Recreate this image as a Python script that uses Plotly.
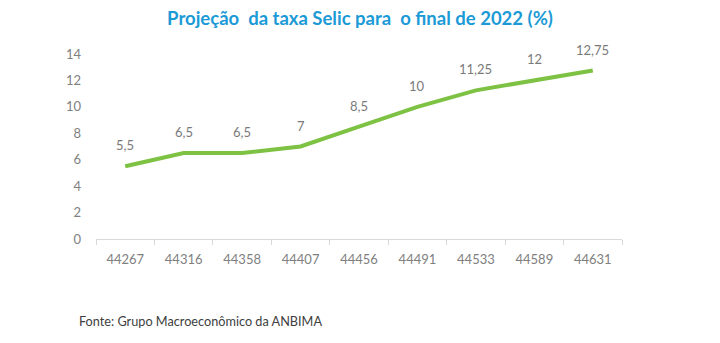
import plotly.graph_objects as go

# Selic projections for end of 2022 (%), by survey date (Excel serial)
datas = ["44267", "44316", "44358", "44407", "44456", "44491", "44533", "44589", "44631"]
selic = [5.5, 6.5, 6.5, 7, 8.5, 10, 11.25, 12, 12.75]
y_ticks = [0, 2, 4, 6, 8, 10, 12, 14]

def fmt(v):
    return f"{v:g}".replace(".", ",")

pos = list(range(len(datas)))
bounds = [p - 0.5 for p in pos] + [pos[-1] + 0.5]

grey = "#808080"
fig = go.Figure()
fig.add_trace(go.Scatter(
    x=pos, y=selic, mode="lines",
    line=dict(color="#7dc243", width=4),
    hoverinfo="skip",
))

for p, v in zip(pos, selic):
    fig.add_annotation(
        x=p, y=v, text=fmt(v), showarrow=False,
        yshift=21, font=dict(size=13, color="#7a7a7a", family="Lato"),
    )

fig.add_annotation(
    xref="paper", yref="paper", x=-0.036, y=-0.443,
    xanchor="left", yanchor="middle", showarrow=False,
    text="Fonte: Grupo Macroeconômico da ANBIMA",
    font=dict(size=12.7, color="#404040", family="Lato"),
)

fig.update_layout(
    width=720, height=343,
    margin=dict(l=96, r=98, t=54, b=104),
    paper_bgcolor="white", plot_bgcolor="white",
    showlegend=False,
    title=dict(
        text="<b>Projeção  da taxa Selic para  o final de 2022 (%)</b>",
        x=0.5, xanchor="center", y=1 - 19 / 343, yanchor="middle",
        yref="container",
        font=dict(size=18.5, color="#1b9ad6", family="Lato"),
    ),
    font=dict(family="Lato", color=grey),
)
fig.update_xaxes(
    range=[bounds[0], bounds[-1]], tickvals=pos, ticktext=datas,
    showline=True, linecolor="#d9d9d9", linewidth=1,
    ticks="", ticklabelstandoff=8,
    minor=dict(tickvals=bounds, ticks="outside", ticklen=5, tickcolor="#d9d9d9", showgrid=False),
    showgrid=False, zeroline=False, tickfont=dict(size=13, color=grey),
)
fig.update_yaxes(
    range=[0, 14], tickvals=y_ticks, showgrid=False, zeroline=False,
    showline=False, ticks="", ticklabelstandoff=14,
    tickfont=dict(size=13, color=grey),
)

fig.write_html("out.html")
